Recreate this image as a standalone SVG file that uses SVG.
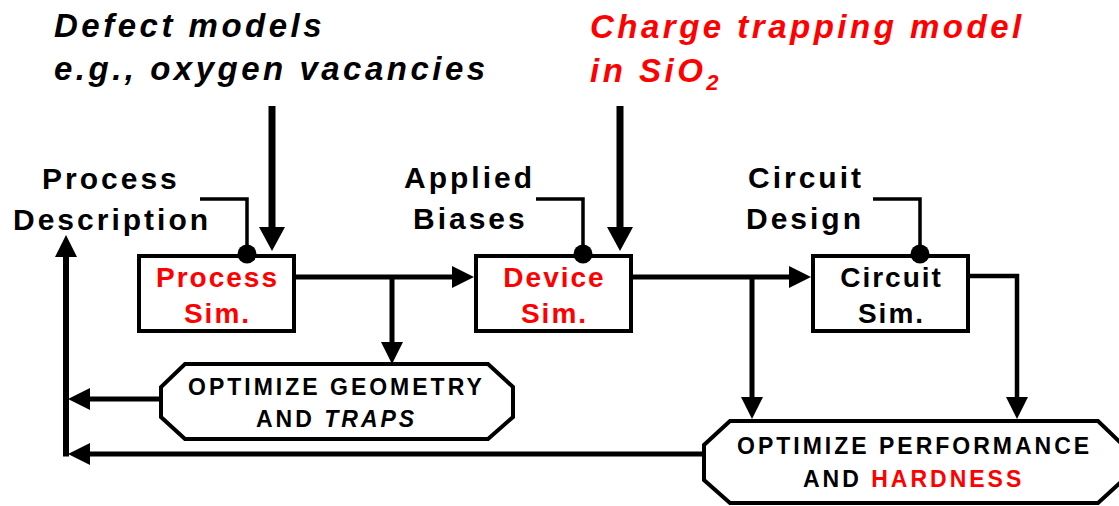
<svg xmlns="http://www.w3.org/2000/svg" width="1119" height="506" viewBox="0 0 1119 506">
  <defs>
    <marker id="arrow" markerUnits="userSpaceOnUse" viewBox="0 0 22 22" refX="12" refY="11" markerWidth="22" markerHeight="22" orient="auto">
      <path d="M0,0 L22,11 L0,22 Z" fill="#000"/>
    </marker>
    <marker id="arrowBig" markerUnits="userSpaceOnUse" viewBox="0 0 24 26" refX="12" refY="13" markerWidth="24" markerHeight="26" orient="auto">
      <path d="M0,0 L24,13 L0,26 Z" fill="#000"/>
    </marker>
    <style>
      .lbl { font-family: "Liberation Sans", Arial, sans-serif; font-weight: bold; fill: #000; }
      .side { font-size: 30px; letter-spacing: 3px; }
      .top { font-size: 33px; font-style: italic; letter-spacing: 3.5px; }
      .box { font-size: 28px; letter-spacing: 2px; text-anchor: middle; }
      .opt { font-size: 23px; letter-spacing: 3px; }
      .red { fill: #ff0000; }
      .it { font-style: italic; }
      .frame { fill: #fff; stroke: #000; stroke-width: 4; stroke-linejoin: miter; }
      .wire { fill: none; stroke: #000; stroke-width: 5; }
      .feed { fill: none; stroke: #000; stroke-width: 3.5; }
      .heavy { fill: none; stroke: #000; stroke-width: 7; }
    </style>
  </defs>

  <!-- model inputs -->
  <g id="defect-models">
    <text class="lbl top" x="54" y="37">Defect models</text>
    <text class="lbl top" x="54" y="80">e.g., oxygen vacancies</text>
  </g>
  <g id="charge-trapping">
    <text class="lbl top red" x="590" y="38">Charge trapping model</text>
    <text class="lbl top red" x="590" y="82">in SiO<tspan font-size="22" dy="8" letter-spacing="0">2</tspan></text>
  </g>

  <!-- side inputs -->
  <g id="process-description">
    <text class="lbl side" x="42" y="189">Process</text>
    <text class="lbl side" x="13" y="230">Description</text>
  </g>
  <g id="applied-biases">
    <text class="lbl side" x="404" y="188">Applied</text>
    <text class="lbl side" x="413" y="229">Biases</text>
  </g>
  <g id="circuit-design">
    <text class="lbl side" x="748" y="188">Circuit</text>
    <text class="lbl side" x="746" y="229">Design</text>
  </g>

  <!-- connectors -->
  <g id="connectors">
    <path class="heavy" d="M272,106 V239" marker-end="url(#arrowBig)"/>
    <path class="heavy" d="M620,106 V239" marker-end="url(#arrowBig)"/>

    <path class="feed" d="M200,199 H247 V254"/>
    <path class="feed" d="M536,199 H583 V254"/>
    <path class="feed" d="M873,199 H920 V254"/>

    <path class="wire" d="M296,277 H464" marker-end="url(#arrow)"/>
    <path class="wire" d="M392,277 V354" marker-end="url(#arrow)"/>
    <path class="wire" d="M633,277 H801" marker-end="url(#arrow)"/>
    <path class="wire" d="M752,277 V409" marker-end="url(#arrow)"/>
    <path class="feed" d="M970,276 H1017 V409" marker-end="url(#arrow)" style="stroke-width:4.5"/>

    <path class="wire" d="M161,399 H78" marker-end="url(#arrow)"/>
    <path class="wire" d="M704,454 H78" marker-end="url(#arrow)"/>
    <path class="wire" d="M66,456.5 V245" marker-end="url(#arrow)" style="stroke-width:6"/>
  </g>

  <!-- simulators -->
  <g id="process-sim">
    <rect class="frame" x="139" y="256" width="155" height="75"/>
    <text class="lbl box red" x="217.5" y="287">Process</text>
    <text class="lbl box red" x="217.5" y="323">Sim.</text>
    <circle cx="247" cy="254" r="9.5" fill="#000"/>
  </g>
  <g id="device-sim">
    <rect class="frame" x="476" y="256" width="155" height="75"/>
    <text class="lbl box red" x="554.5" y="287">Device</text>
    <text class="lbl box red" x="554.5" y="323">Sim.</text>
    <circle cx="583" cy="254" r="9.5" fill="#000"/>
  </g>
  <g id="circuit-sim">
    <rect class="frame" x="813" y="256" width="155" height="75"/>
    <text class="lbl box" x="891.5" y="287">Circuit</text>
    <text class="lbl box" x="891.5" y="323">Sim.</text>
    <circle cx="920" cy="254" r="9.5" fill="#000"/>
  </g>

  <!-- optimization loops -->
  <g id="optimize-geometry">
    <polygon class="frame" points="185,364 488,364 513,387 513,417 488,439 185,439 161,417 161,387"/>
    <text class="lbl opt" x="188" y="395">OPTIMIZE GEOMETRY</text>
    <text class="lbl opt" x="256" y="427">AND <tspan class="it">TRAPS</tspan></text>
  </g>
  <g id="optimize-performance">
    <polygon class="frame" points="730,421 1098,421 1123,445 1123,480 1098,503 730,503 704,480 704,445"/>
    <text class="lbl opt" x="737" y="454">OPTIMIZE PERFORMANCE</text>
    <text class="lbl opt" x="803" y="487">AND <tspan class="red">HARDNESS</tspan></text>
  </g>
</svg>
